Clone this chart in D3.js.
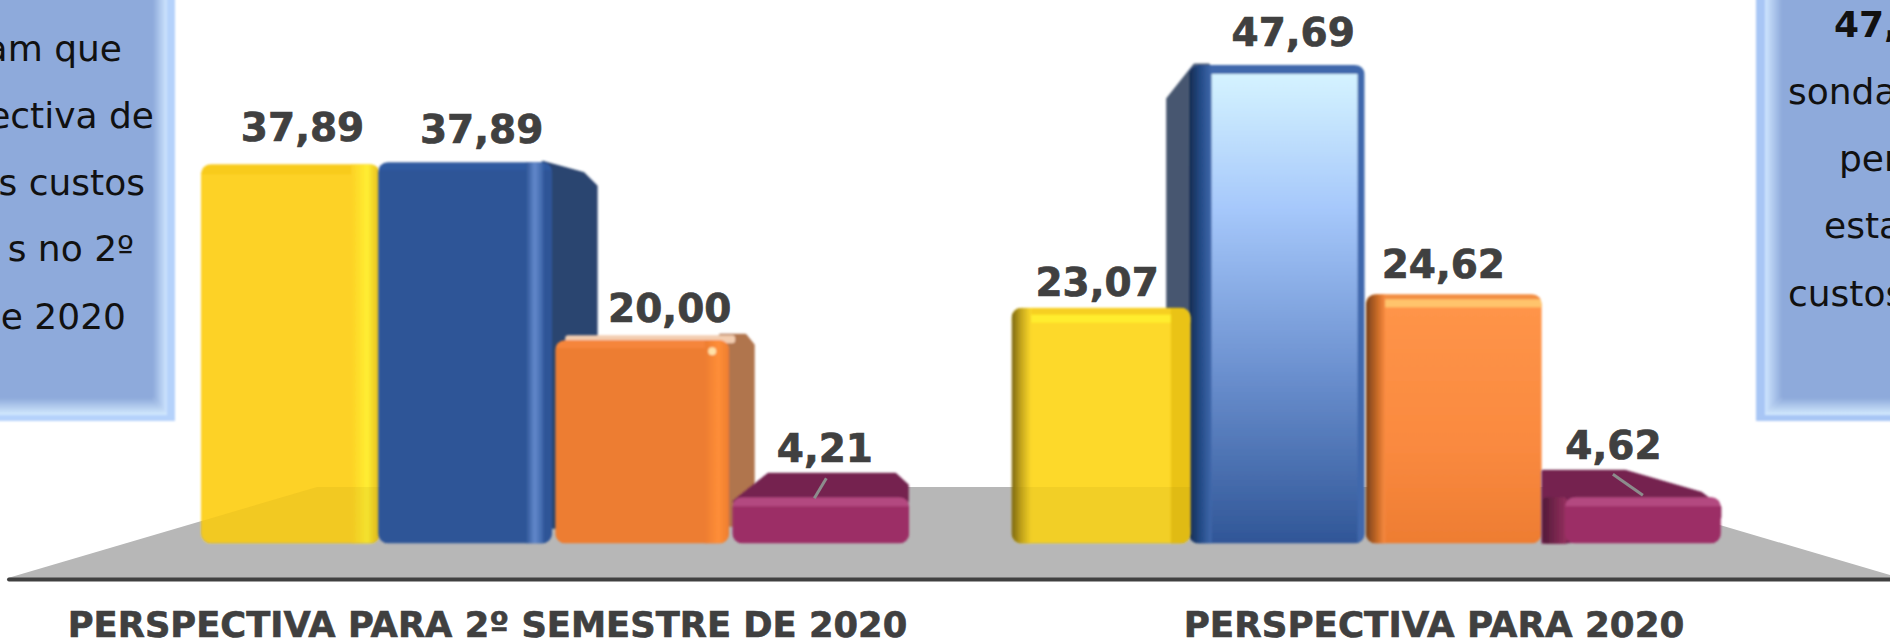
<!DOCTYPE html>
<html>
<head>
<meta charset="utf-8">
<script src="https://d3js.org/d3.v7.min.js"></script>
<style>
html, body { margin: 0; padding: 0; background: #fff; overflow: hidden; }
svg { display: block; }
text { font-family: "DejaVu Sans", sans-serif; }
</style>
</head>
<body>
<div id="chart"></div>
<script>
const groups = ["PERSPECTIVA PARA 2º SEMESTRE DE 2020", "PERSPECTIVA PARA 2020"];
const answers = ["a", "b", "c", "d"];
const semesterValues = [37.89, 37.89, 20.00, 4.21];
const yearValues = [23.07, 47.69, 24.62, 4.62];
const leftNote = ["am que", "ectiva de", "s custos", "s no 2º", "e 2020"];
const rightNote = ["47,", "sonda", "per", "esta", "custos"];

const width = 1890, height = 640, floorY = 543.5;

const svg = d3.select("#chart").append("svg").attr("width", width).attr("height", height);
const defs = svg.append("defs");

defs.append("filter").attr("id", "soft").attr("x", "-5%").attr("y", "-5%").attr("width", "110%").attr("height", "110%")
    .append("feGaussianBlur").attr("stdDeviation", 0.8);

function gradient(id, stops, horizontal) {
    const g = defs.append("linearGradient").attr("id", id)
        .attr("x1", 0).attr("y1", 0)
        .attr("x2", horizontal ? 1 : 0).attr("y2", horizontal ? 0 : 1);
    stops.forEach(s => g.append("stop").attr("offset", s[0]).attr("stop-color", s[1]));
    return "url(#" + id + ")";
}

const boxRight = gradient("boxRight", [[0, "#8eaadb"], [1, "#cfe6ff"]], true);
const boxLeft = gradient("boxLeft", [[0, "#cfe6ff"], [1, "#8eaadb"]], true);
const boxBottom = gradient("boxBottom", [[0, "#8eaadb"], [1, "#d4ebff"]]);
const blueFace = gradient("blueFace", [[0, "#d8f6ff"], [0.3, "#a6c8fb"], [0.65, "#6a8fce"], [1, "#305697"]]);
const orangeFace = gradient("orangeFace", [[0, "#ff9549"], [0.6, "#fa8a40"], [1, "#ee7d32"]]);
const yellowEdge = gradient("yellowEdge", [[0, "#7a6614"], [0.5, "#c7a81d"], [1, "#fdd92b"]], true);
const blueEdge = gradient("blueEdge", [[0, "#16294d"], [0.5, "#234a85"], [1, "#3f68ac"]], true);
const orangeEdge = gradient("orangeEdge", [[0, "#75401a"], [0.6, "#c96a28"], [1, "#f98b41"]], true);
const plumEdge = gradient("plumEdge", [[0, "#521a38"], [1, "#96305f"]], true);
const blueShine = gradient("blueShine", [[0, "#2f5597"], [0.5, "#6288cb"], [1, "#3a62a6"]], true);
const yellowShine = gradient("yellowShine", [[0, "#fdd225"], [0.6, "#ffee33"], [1, "#e8bf20"]], true);
const orangeShine = gradient("orangeShine", [[0, "#ed7d31"], [0.6, "#ff8e38"], [1, "#f08030"]], true);

// how each bar looks, same order as the values
const looks = [[
    {face: "#fdd225", w: 179, dy: 2, top: ["#f8cb1e", 10], strips: [[0.84, 0.99, yellowShine]], label: [13, -21]},
    {face: "#2f5597", w: 174, top: ["#2e5aa0", 8], strips: [[0.85, 0.95, blueShine]], label: [15, -19],
     back: {pts: [[165, 0], [205, 11], [218, 24], [218, 365], [170, 365]], fill: "#2b4470"}},
    {face: "#ed7d31", w: 174, top: ["#f5853a", 8], strips: [[0.86, 0.99, orangeShine]], label: [26, -18],
     cap: "#f3cdb0", spot: [157, 11],
     back: {pts: [[165, -5], [190, -5], [198, 5], [198, 185], [170, 185]], fill: "#b0744d"}},
    {face: "#9c2f66", w: 177, top: ["#b34980", 9], label: [4, -35], line: [[94, -19], [82, 1]],
     back: {pts: [[2, 4], [36, -23], [163, -23], [175, -12], [175, 4]], fill: "#74244f"}}
], [
    {face: "#fdd92b", w: 179, dy: -2, top: ["#f6cf22", 7], band: [7, 8, "#ffed2e"], strips: [[0, 0.11, yellowEdge], [0.89, 1, "#eac316"]], label: [-3, -14]},
    {face: blueFace, w: 176, top: ["#3f68ac", 9], strips: [[0, 0.13, blueEdge], [0.96, 1, "#3f68ac"]], label: [16, -19],
     back: {pts: [[-21, 34], [6, 0], [20, 0], [20, 476], [-21, 446]], fill: "#46566f"}},
    {face: orangeFace, w: 176, top: ["#f28d42", 5], band: [5, 8, "#ffc46c"], strips: [[0, 0.11, orangeEdge]], label: [-11, -16]},
    {face: "#9c2f66", x: 22, w: 156, dy: 4, top: ["#b34980", 9], label: [-18, -34], line: [[70, -19], [100, 2]],
     back: {pts: [[0, -22], [82, -22], [158, 0], [177, 14], [177, 24], [22, 49], [0, 49]], fill: "#74244f"},
     wall: {x: 0, w: 24, fill: plumEdge}}
]];

const x0 = d3.scaleBand().domain(groups).range([201, 1720]).paddingInner(0.126);
const x1 = d3.scaleBand().domain(answers).range([0, x0.bandwidth()]);
const y = d3.scaleLinear().domain([0, 50]).range([floorY - 4.3, floorY - 4.3 - 497.3]);

// note boxes, they run off the page
function noteBox(side) {
    const g = svg.append("g").attr("filter", "url(#soft)");
    if (side === "left") {
        g.append("rect").attr("x", -10).attr("y", -10).attr("width", 185).attr("height", 431).attr("fill", "#b5d2fb");
        g.append("rect").attr("x", -10).attr("y", -10).attr("width", 177).attr("height", 425).attr("fill", "#e6f3ff");
        g.append("rect").attr("x", -10).attr("y", -10).attr("width", 163).attr("height", 408).attr("fill", "#8eaadb");
        g.append("polygon").attr("points", "153,-10 167,-10 167,415 153,398").attr("fill", boxRight);
        g.append("polygon").attr("points", "-10,398 153,398 167,415 -10,415").attr("fill", boxBottom);
    } else {
        g.append("rect").attr("x", 1756).attr("y", -10).attr("width", 150).attr("height", 431).attr("fill", "#a8c6f5");
        g.append("rect").attr("x", 1765).attr("y", -10).attr("width", 140).attr("height", 425).attr("fill", "#e6f3ff");
        g.append("rect").attr("x", 1782).attr("y", -10).attr("width", 120).attr("height", 408).attr("fill", "#8eaadb");
        g.append("polygon").attr("points", "1765,-10 1782,-10 1782,398 1765,415").attr("fill", boxLeft);
        g.append("polygon").attr("points", "1782,398 1900,398 1900,415 1765,415").attr("fill", boxBottom);
    }
}
noteBox("left");
noteBox("right");

const noteLeftPos = [[122, 61], [154, 128], [145, 195], [134, 261], [126, 329]];
const noteRightPos = [[1834, 37], [1788, 104], [1839, 171], [1824, 238], [1788, 306]];

svg.selectAll("text.noteL").data(leftNote).enter().append("text").attr("class", "noteL")
    .attr("x", (d, i) => noteLeftPos[i][0]).attr("y", (d, i) => noteLeftPos[i][1])
    .attr("text-anchor", "end").attr("font-size", 36).attr("fill", "#111").text(d => d);
svg.selectAll("text.noteR").data(rightNote).enter().append("text").attr("class", "noteR")
    .attr("x", (d, i) => noteRightPos[i][0]).attr("y", (d, i) => noteRightPos[i][1])
    .attr("font-size", 36).attr("font-weight", d => d === "47," ? "bold" : "normal").attr("fill", "#111").text(d => d);

// floor and base line
const floorPts = "8,578 317,487 1591,487 1890,575 1890,578";
svg.append("polygon").attr("points", floorPts).attr("fill", "#b7b7b7");
svg.append("line").attr("x1", 9).attr("x2", width).attr("y1", 579.5).attr("y2", 579.5)
    .attr("stroke", "#404040").attr("stroke-width", 4).attr("stroke-linecap", "round");

function drawBar(parent, x, top, look, id) {
    const g = parent.append("g").attr("filter", "url(#soft)");
    const fx = x + (look.x || 0);
    const fy = top + (look.dy || 0);
    const fh = floorY - fy;

    if (look.back) {
        g.append("polygon")
            .attr("points", look.back.pts.map(p => [x + p[0], top + p[1]].join(",")).join(" "))
            .attr("fill", look.back.fill)
            .attr("stroke", look.back.fill).attr("stroke-width", 3).attr("stroke-linejoin", "round");
    }
    if (look.cap) {
        g.append("rect").attr("x", fx + 10).attr("y", fy - 5).attr("width", look.w - 4).attr("height", 8).attr("rx", 3).attr("fill", look.cap);
    }
    if (look.wall) {
        g.append("rect").attr("x", x + look.wall.x).attr("y", fy).attr("width", look.wall.w).attr("height", fh)
            .attr("rx", 4).attr("fill", look.wall.fill);
    }

    const clip = defs.append("clipPath").attr("id", id);
    clip.append("rect").attr("x", fx).attr("y", fy).attr("width", look.w).attr("height", fh).attr("rx", 10);
    const f = g.append("g").attr("clip-path", "url(#" + id + ")");
    f.append("rect").attr("x", fx).attr("y", fy).attr("width", look.w).attr("height", fh).attr("fill", look.face);
    if (look.top) {
        f.append("rect").attr("x", fx).attr("y", fy).attr("width", look.w).attr("height", look.top[1]).attr("fill", look.top[0]);
    }
    if (look.band) {
        f.append("rect").attr("x", fx).attr("y", fy + look.band[0]).attr("width", look.w).attr("height", look.band[1]).attr("fill", look.band[2]);
    }
    (look.strips || []).forEach(s => {
        f.append("rect").attr("x", fx + s[0] * look.w).attr("y", fy)
            .attr("width", (s[1] - s[0]) * look.w).attr("height", fh).attr("fill", s[2]);
    });
    if (look.spot) {
        f.append("circle").attr("cx", fx + look.spot[0]).attr("cy", fy + look.spot[1]).attr("r", 4).attr("fill", "#ffe2a8");
    }
}

const rows = [semesterValues, yearValues];
const bars = svg.append("g");

groups.forEach((grp, gi) => {
    const order = gi === 0 ? [0, 1, 2, 3] : [1, 0, 2, 3];
    order.forEach(i => {
        const value = rows[gi][i];
        const x = x0(grp) + x1(answers[i]);
        const look = looks[gi][i];
        drawBar(bars, x, y(value), look, "face" + gi + i);
        // the yellow bars are see through, the floor shows on them
        if (i === 0) {
            bars.append("polygon").attr("points", floorPts).attr("fill", "#8a6d00").attr("opacity", 0.09)
                .attr("clip-path", "url(#face" + gi + i + ")");
        }
        if (look.line) {
            bars.append("line")
                .attr("x1", x + look.line[0][0]).attr("y1", y(value) + look.line[0][1])
                .attr("x2", x + look.line[1][0]).attr("y2", y(value) + look.line[1][1])
                .attr("stroke", "#8c8c8c").attr("stroke-width", 3);
        }
        svg.append("text")
            .attr("x", x + x1.bandwidth() / 2 + look.label[0])
            .attr("y", y(value) + look.label[1])
            .attr("text-anchor", "middle")
            .attr("font-size", 39).attr("font-weight", "bold").attr("fill", "#404040")
            .attr("stroke", "#404040").attr("stroke-width", 0.7)
            .text(d3.format(".2f")(value).replace(".", ","));
    });
});

// category names under the floor
const axis = svg.append("g").attr("transform", "translate(0,637)");
axis.append("text").attr("x", 487.5).attr("text-anchor", "middle")
    .attr("font-size", 35.3).attr("font-weight", "bold").attr("fill", "#404040")
    .attr("stroke", "#404040").attr("stroke-width", 0.6).text(groups[0]);
axis.append("text").attr("x", 1434).attr("text-anchor", "middle")
    .attr("font-size", 35.7).attr("font-weight", "bold").attr("fill", "#404040")
    .attr("stroke", "#404040").attr("stroke-width", 0.6).text(groups[1]);
</script>
</body>
</html>
